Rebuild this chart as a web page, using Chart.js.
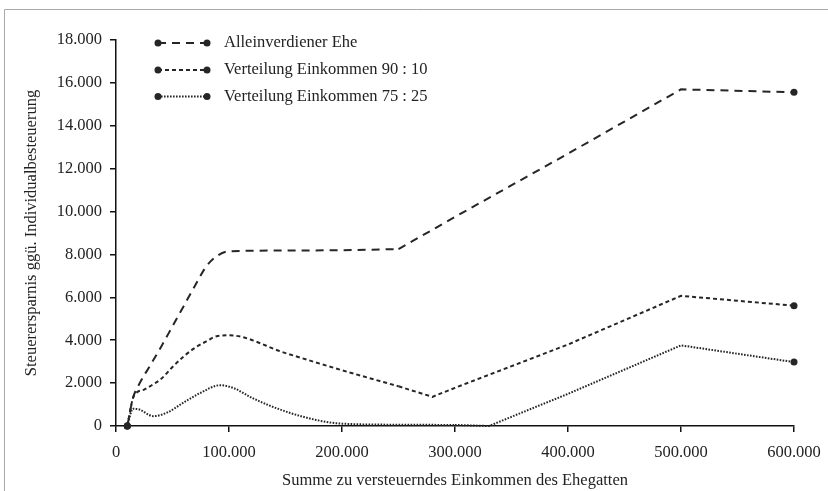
<!DOCTYPE html>
<html>
<head>
<meta charset="utf-8">
<script src="https://cdn.jsdelivr.net/npm/chart.js@4/dist/chart.umd.min.js"></script>
<style>
  html, body { margin: 0; padding: 0; background: #fff; }
  #wrap { position: relative; width: 828px; height: 491px; }
</style>
</head>
<body>
<div id="wrap"><canvas id="c" width="828" height="491"></canvas></div>
<script>
// ---- data (x = income in EUR, y = tax saving in EUR) ----
const seriesNames = ["Alleinverdiener Ehe", "Verteilung Einkommen 90 : 10", "Verteilung Einkommen 75 : 25"];

const incomeA  = [10000,15000,20000,30000,40000,50000,60000,70000,80000,90000,100000,150000,200000,250000,300000,400000,500000,600000];
const savingsA = [0,1300,1900,2800,3700,4650,5600,6550,7450,7950,8150,8180,8200,8250,9750,12700,15700,15560];

const incomeB  = [10000,15000,18000,25000,30000,40000,50000,60000,70000,80000,90000,100000,150000,200000,250000,280000,300000,400000,500000,600000];
const savingsB = [0,1300,1550,1700,1850,2200,2750,3250,3650,3950,4200,4230,3400,2600,1850,1360,1780,3800,6070,5610];

const incomeC  = [10000,15000,20000,33000,45000,60000,75000,92000,105000,120000,150000,180000,200000,250000,300000,330000,400000,500000,600000];
const savingsC = [0,800,780,460,620,1100,1550,1900,1750,1320,680,250,110,60,50,0,1500,3760,2980];

const xTickValues = [0,100000,200000,300000,400000,500000,600000];
const yTickMax = 18000, yTickStep = 2000;

// income above which each curve is drawn as straight segments
const smoothUntil = [250000, 250000, 300000];

function fmt(v) { return String(Math.round(v)).replace(/\B(?=(\d{3})+(?!\d))/g, "."); }

const INK = "#262626";
const FONT = "'Liberation Serif', 'DejaVu Serif', serif";
const FS = 16.5;
const dashes = [[8, 6], [4, 3], [1.6, 1.4]];

const frame = {
  id: "frame",
  beforeDraw(chart) {
    const ctx = chart.ctx;
    ctx.save();
    ctx.strokeStyle = "#a8a8a8";
    ctx.lineWidth = 1;
    ctx.beginPath();
    ctx.moveTo(4.5, 491); ctx.lineTo(4.5, 9.5); ctx.lineTo(828, 9.5);
    ctx.stroke();
    ctx.restore();
  }
};

const customLegend = {
  id: "customLegend",
  afterDraw(chart) {
    const ctx = chart.ctx;
    const rows = [43, 70, 96.5];
    ctx.save();
    seriesNames.forEach((name, i) => {
      const y = rows[i];
      ctx.strokeStyle = INK;
      ctx.lineWidth = 2;
      ctx.setLineDash(dashes[i]);
      ctx.beginPath(); ctx.moveTo(158, y); ctx.lineTo(207, y); ctx.stroke();
      ctx.setLineDash([]);
      ctx.fillStyle = INK;
      [158, 207].forEach(px => { ctx.beginPath(); ctx.arc(px, y, 3.5, 0, Math.PI * 2); ctx.fill(); });
      ctx.font = FS + "px " + FONT;
      ctx.textBaseline = "middle";
      ctx.textAlign = "left";
      ctx.fillStyle = "#222";
      ctx.fillText(name, 224, y);
    });
    ctx.restore();
  }
};

function makeParts(i, xs, ys) {
  const all = xs.map((x, k) => ({x: x, y: ys[k]}));
  const low = all.filter(p => p.x <= smoothUntil[i]);
  const high = all.filter(p => p.x >= smoothUntil[i]);
  const base = {
    label: seriesNames[i],
    borderColor: INK,
    backgroundColor: INK,
    borderWidth: 2,
    borderDash: dashes[i],
    pointBackgroundColor: INK,
    pointBorderWidth: 0,
    fill: false,
    clip: false
  };
  return [
    Object.assign({}, base, {
      data: low,
      cubicInterpolationMode: "monotone",
      pointRadius: low.map((_, k) => k === 0 ? 3.5 : 0)
    }),
    Object.assign({}, base, {
      data: high,
      tension: 0,
      pointRadius: high.map((_, k) => k === high.length - 1 ? 3.5 : 0)
    })
  ];
}

new Chart(document.getElementById("c"), {
  type: "line",
  data: {
    datasets: [].concat(
      makeParts(0, incomeA, savingsA),
      makeParts(1, incomeB, savingsB),
      makeParts(2, incomeC, savingsC)
    )
  },
  options: {
    responsive: false,
    animation: false,
    events: [],
    layout: { padding: { top: 40, right: 34, left: 0, bottom: 0 } },
    plugins: { legend: { display: false }, tooltip: { enabled: false } },
    scales: {
      x: {
        type: "linear",
        min: 0, max: 600000,
        afterFit(s) { s.height = 65; s.paddingLeft = 0; s.paddingRight = 0; },
        afterBuildTicks(s) { s.ticks = xTickValues.map(v => ({value: v})); },
        ticks: { callback: v => fmt(v), color: "#222", font: { family: FONT, size: FS }, padding: 11, maxRotation: 0 },
        grid: { display: true, drawOnChartArea: false, drawTicks: true, tickLength: 6, color: "#111", lineWidth: 1.5 },
        border: { display: true, color: "#111", width: 1.5 },
        title: { display: true, text: "Summe zu versteuerndes Einkommen des Ehegatten", color: "#222", font: { family: FONT, size: FS }, padding: { top: 0, bottom: 0 } }
      },
      y: {
        type: "linear",
        min: 0, max: yTickMax,
        afterFit(s) { s.width = 116; s.paddingTop = 0; s.paddingBottom = 0; },
        ticks: { stepSize: yTickStep, callback: v => fmt(v), color: "#222", font: { family: FONT, size: FS }, padding: 8 },
        grid: { display: true, drawOnChartArea: false, drawTicks: true, tickLength: 6, color: "#111", lineWidth: 1.5 },
        border: { display: true, color: "#111", width: 1.5 },
        title: { display: true, text: "Steuerersparnis ggü. Individualbesteuerung", color: "#222", font: { family: FONT, size: FS }, padding: { top: 22, bottom: 0 } }
      }
    }
  },
  plugins: [frame, customLegend]
});
</script>
</body>
</html>
